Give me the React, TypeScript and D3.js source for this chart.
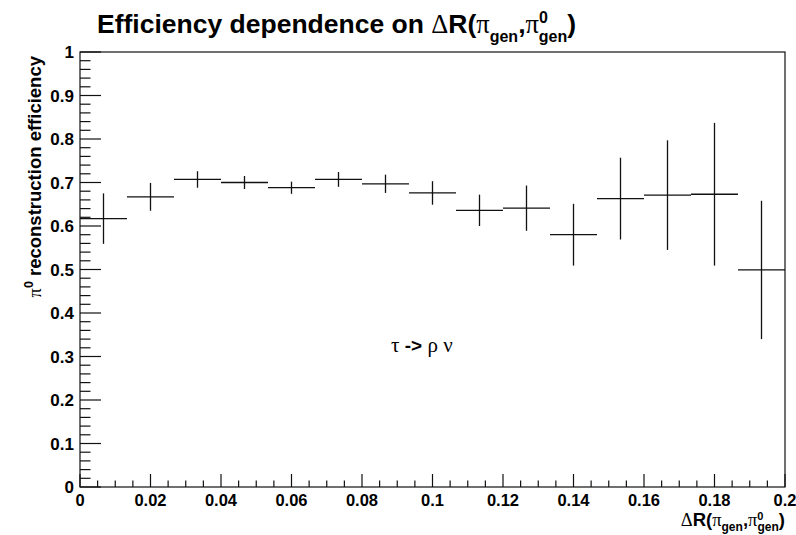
import React from "react";
import * as d3 from "d3";

// Bin layout: 15 equal bins over [0, 0.2]
const binLow = 0;
const binHigh = 0.2;
const nBins = 15;

// Efficiency per bin and its statistical uncertainty
const efficiency = [
  0.617, 0.667, 0.707, 0.700, 0.688, 0.707, 0.697, 0.676, 0.636, 0.641,
  0.580, 0.663, 0.671, 0.673, 0.499,
];
const efficiencyErr = [
  0.058, 0.032, 0.019, 0.015, 0.014, 0.017, 0.021, 0.027, 0.036, 0.052,
  0.071, 0.094, 0.126, 0.164, 0.159,
];

const xTickValues = [0, 0.02, 0.04, 0.06, 0.08, 0.1, 0.12, 0.14, 0.16, 0.18, 0.2];
const xTickLabels = ["0", "0.02", "0.04", "0.06", "0.08", "0.1", "0.12", "0.14", "0.16", "0.18", "0.2"];
const yTickValues = [0, 0.1, 0.2, 0.3, 0.4, 0.5, 0.6, 0.7, 0.8, 0.9, 1];
const yTickLabels = ["0", "0.1", "0.2", "0.3", "0.4", "0.5", "0.6", "0.7", "0.8", "0.9", "1"];

const W = 796;
const H = 535;
const frame = { left: 80, right: 785, top: 52, bottom: 487 };

const FONT = "'Liberation Sans', Arial, Helvetica, sans-serif";
const SYM = "'Liberation Serif', 'Times New Roman', serif";

export default function App() {
  const x = d3.scaleLinear().domain([binLow, binHigh]).range([frame.left, frame.right]);
  const y = d3.scaleLinear().domain([0, 1]).range([frame.bottom, frame.top]);
  const binW = (binHigh - binLow) / nBins;

  const xMinor = d3.range(0, 0.2 + 1e-9, 0.005);
  const yMinor = d3.range(0, 1 + 1e-9, 0.02);
  const isMajor = (v: number, step: number) => Math.abs(v / step - Math.round(v / step)) < 1e-6;

  const xMajorLen = 13;
  const xMinorLen = 6.5;
  const yMajorLen = 21;
  const yMinorLen = 10.5;

  const stroke = "#111";

  return (
    <svg
      width={W}
      height={H}
      style={{ position: "absolute", left: 0, top: 0, background: "#fff" }}
      fontFamily={FONT}
    >
      <rect x={0} y={0} width={W} height={H} fill="#fff" />

      {/* Title */}
      <text x={97} y={33} fontSize={26.5} fontWeight="bold" fill="#000">
        <tspan>Efficiency dependence on </tspan>
        <tspan fontFamily={SYM} fontWeight="normal">Δ</tspan>
        <tspan>R(</tspan>
        <tspan fontFamily={SYM} fontWeight="normal">π</tspan>
        <tspan fontSize={16} dy={9}>gen</tspan>
        <tspan dy={-9}>,</tspan>
        <tspan fontFamily={SYM} fontWeight="normal">π</tspan>
        <tspan fontSize={16} dy={-10}>0</tspan>
        <tspan fontSize={16} dx={-9} dy={19}>gen</tspan>
        <tspan dy={-9}>)</tspan>
      </text>

      {/* Frame */}
      <rect
        x={frame.left}
        y={frame.top}
        width={frame.right - frame.left}
        height={frame.bottom - frame.top}
        fill="none"
        stroke={stroke}
        strokeWidth={1.2}
      />

      {/* X-axis ticks */}
      {xMinor.map((v, i) => {
        const len = isMajor(v, 0.02) ? xMajorLen : xMinorLen;
        return (
          <line
            key={`xt${i}`}
            x1={x(v)}
            x2={x(v)}
            y1={frame.bottom}
            y2={frame.bottom - len}
            stroke={stroke}
            strokeWidth={1.2}
          />
        );
      })}
      {xTickValues.map((v, i) => (
        <text
          key={`xl${i}`}
          x={x(v)}
          y={frame.bottom + 19}
          fontSize={16.5}
          fontWeight="bold"
          textAnchor="middle"
          fill="#000"
        >
          {xTickLabels[i]}
        </text>
      ))}

      {/* Y-axis ticks */}
      {yMinor.map((v, i) => {
        const len = isMajor(v, 0.1) ? yMajorLen : yMinorLen;
        return (
          <line
            key={`yt${i}`}
            x1={frame.left}
            x2={frame.left + len}
            y1={y(v)}
            y2={y(v)}
            stroke={stroke}
            strokeWidth={1.2}
          />
        );
      })}
      {yTickValues.map((v, i) => (
        <text
          key={`yl${i}`}
          x={frame.left - 6}
          y={y(v) + 6}
          fontSize={17}
          fontWeight="bold"
          textAnchor="end"
          fill="#000"
        >
          {yTickLabels[i]}
        </text>
      ))}

      {/* Data: horizontal bin width and vertical error bar */}
      {efficiency.map((v, i) => {
        const lo = binLow + i * binW;
        const hi = lo + binW;
        const c = lo + binW / 2;
        return (
          <g key={`b${i}`} stroke="#111" strokeWidth={1.3}>
            <line x1={x(lo)} x2={x(hi)} y1={y(v)} y2={y(v)} />
            <line x1={x(c)} x2={x(c)} y1={y(v + efficiencyErr[i])} y2={y(v - efficiencyErr[i])} />
          </g>
        );
      })}

      {/* Annotation */}
      <text x={391} y={352} fontSize={19} fill="#000">
        <tspan fontFamily={SYM} fontSize={21}>τ</tspan>
        <tspan fontWeight="bold"> -&gt; </tspan>
        <tspan fontFamily={SYM} fontSize={21}>ρ ν</tspan>
      </text>

      {/* X-axis title */}
      <text x={frame.right} y={526} fontSize={18.5} fontWeight="bold" textAnchor="end" fill="#000">
        <tspan fontFamily={SYM} fontWeight="normal">Δ</tspan>
        <tspan>R(</tspan>
        <tspan fontFamily={SYM} fontWeight="normal">π</tspan>
        <tspan fontSize={12} dy={5}>gen</tspan>
        <tspan dy={-5}>,</tspan>
        <tspan fontFamily={SYM} fontWeight="normal">π</tspan>
        <tspan fontSize={11} dy={-6}>0</tspan>
        <tspan fontSize={12} dx={-6} dy={11}>gen</tspan>
        <tspan dy={-5}>)</tspan>
      </text>

      {/* Y-axis title */}
      <text
        transform={`translate(41, 56) rotate(-90)`}
        fontSize={18.5}
        fontWeight="bold"
        textAnchor="end"
        fill="#000"
      >
        <tspan fontFamily={SYM} fontWeight="normal">π</tspan>
        <tspan fontSize={12.5} dy={-8}>0</tspan>
        <tspan dy={8}> reconstruction efficiency</tspan>
      </text>
    </svg>
  );
}
